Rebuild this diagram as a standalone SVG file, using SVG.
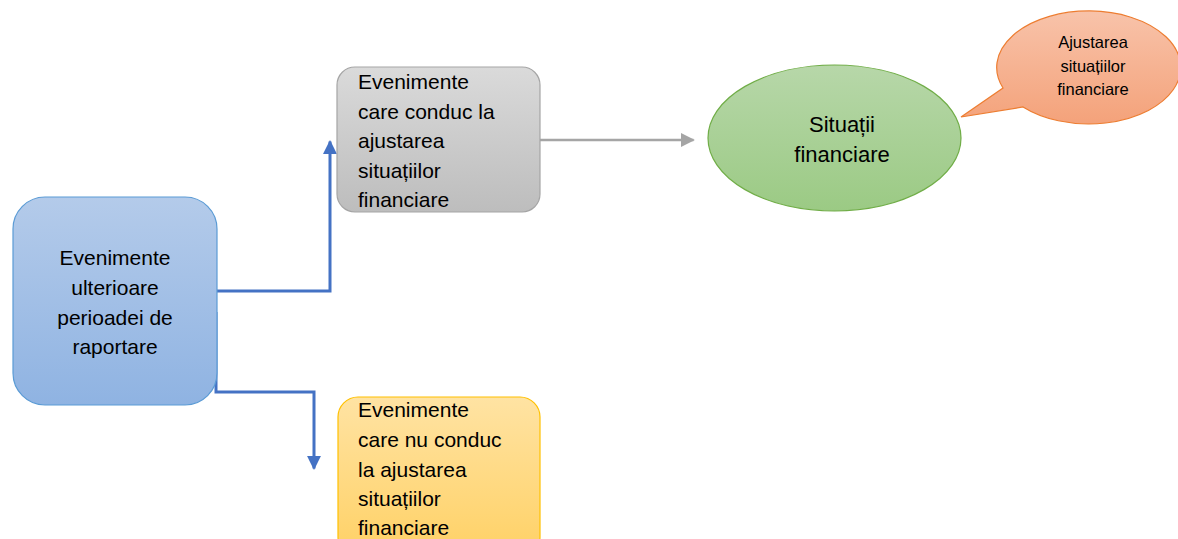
<svg xmlns="http://www.w3.org/2000/svg" width="1178" height="539" viewBox="0 0 1178 539">
  <defs>
    <linearGradient id="gBlue" x1="0" y1="0" x2="0" y2="1">
      <stop offset="0" stop-color="#b4cbea"/>
      <stop offset="1" stop-color="#8fb3e2"/>
    </linearGradient>
    <linearGradient id="gGray" x1="0" y1="0" x2="0" y2="1">
      <stop offset="0" stop-color="#dadada"/>
      <stop offset="1" stop-color="#bdbdbd"/>
    </linearGradient>
    <linearGradient id="gGreen" x1="0" y1="0" x2="0" y2="1">
      <stop offset="0" stop-color="#b7d7a9"/>
      <stop offset="1" stop-color="#9bca84"/>
    </linearGradient>
    <linearGradient id="gOrange" x1="0" y1="0" x2="0" y2="1">
      <stop offset="0" stop-color="#f8c3aa"/>
      <stop offset="1" stop-color="#f4a27a"/>
    </linearGradient>
    <linearGradient id="gGold" x1="0" y1="0" x2="0" y2="1">
      <stop offset="0" stop-color="#ffe3a3"/>
      <stop offset="1" stop-color="#ffd165"/>
    </linearGradient>
    <marker id="arrowBlue" viewBox="0 0 10 10" refX="9" refY="5" markerWidth="4.7" markerHeight="4.7" markerUnits="strokeWidth" orient="auto">
      <path d="M0,0 L10,5 L0,10 Z" fill="#4472c4"/>
    </marker>
    <marker id="arrowGray" viewBox="0 0 10 10" refX="9" refY="5" markerWidth="5.6" markerHeight="5.6" markerUnits="strokeWidth" orient="auto">
      <path d="M0,0 L10,5 L0,10 Z" fill="#a5a5a5"/>
    </marker>
  </defs>
  <style>
    text { font-family: "Liberation Sans", Arial, sans-serif; fill: #000; }
    .big { font-size: 21px; }
    .mid { font-size: 22px; }
    .small { font-size: 16.5px; }
    .c { text-anchor: middle; }
    .blue { stroke: #4472c4; stroke-width: 3; fill: none; }
    .gray { stroke: #a5a5a5; stroke-width: 2.5; fill: none; }
  </style>

  <!-- connectors -->
  <g id="connectors">
    <polyline class="blue" points="217,291 330,291 330,141.5" marker-end="url(#arrowBlue)"/>
    <polyline class="blue" points="216,312 216,392 314,392 314,468.5" marker-end="url(#arrowBlue)"/>
    <line class="gray" x1="540" y1="140" x2="693.5" y2="140" marker-end="url(#arrowGray)"/>
  </g>

  <!-- source events -->
  <g id="subsequent-events">
    <rect x="13" y="197" width="204" height="208" rx="32" ry="32" fill="url(#gBlue)" stroke="#5b9bd5" stroke-width="1.2"/>
    <text class="big c" x="115" y="265">Evenimente</text>
    <text class="big c" x="115" y="295">ulterioare</text>
    <text class="big c" x="115" y="325">perioadei de</text>
    <text class="big c" x="115" y="354">raportare</text>
  </g>

  <!-- adjusting events -->
  <g id="adjusting-events">
    <rect x="337" y="67" width="203" height="145" rx="18" ry="18" fill="url(#gGray)" stroke="#a5a5a5" stroke-width="1.2"/>
    <text class="big" x="358" y="89">Evenimente</text>
    <text class="big" x="358" y="119">care conduc la</text>
    <text class="big" x="358" y="148">ajustarea</text>
    <text class="big" x="358" y="178">situațiilor</text>
    <text class="big" x="358" y="207">financiare</text>
  </g>

  <!-- non-adjusting events -->
  <g id="non-adjusting-events">
    <rect x="338" y="397" width="202" height="160" rx="20" ry="20" fill="url(#gGold)" stroke="#ffc000" stroke-width="1.2"/>
    <text class="big" x="358" y="417">Evenimente</text>
    <text class="big" x="358" y="447">care nu conduc</text>
    <text class="big" x="358" y="477">la ajustarea</text>
    <text class="big" x="358" y="506">situațiilor</text>
    <text class="big" x="358" y="535">financiare</text>
  </g>

  <!-- financial statements -->
  <g id="financial-statements">
    <ellipse cx="834.5" cy="138" rx="126.5" ry="73" fill="url(#gGreen)" stroke="#70ad47" stroke-width="1.2"/>
    <text class="mid c" x="842" y="132">Situații</text>
    <text class="mid c" x="842" y="162">financiare</text>
  </g>

  <!-- callout -->
  <g id="adjustment-callout">
    <path d="M1003,88 A92,56.5 0 1 1 1023,107 L961,117 Z" fill="url(#gOrange)" stroke="#ed7d31" stroke-width="1.2"/>
    <text class="small c" x="1093" y="48">Ajustarea</text>
    <text class="small c" x="1093" y="72">situațiilor</text>
    <text class="small c" x="1093" y="95">financiare</text>
  </g>
</svg>
